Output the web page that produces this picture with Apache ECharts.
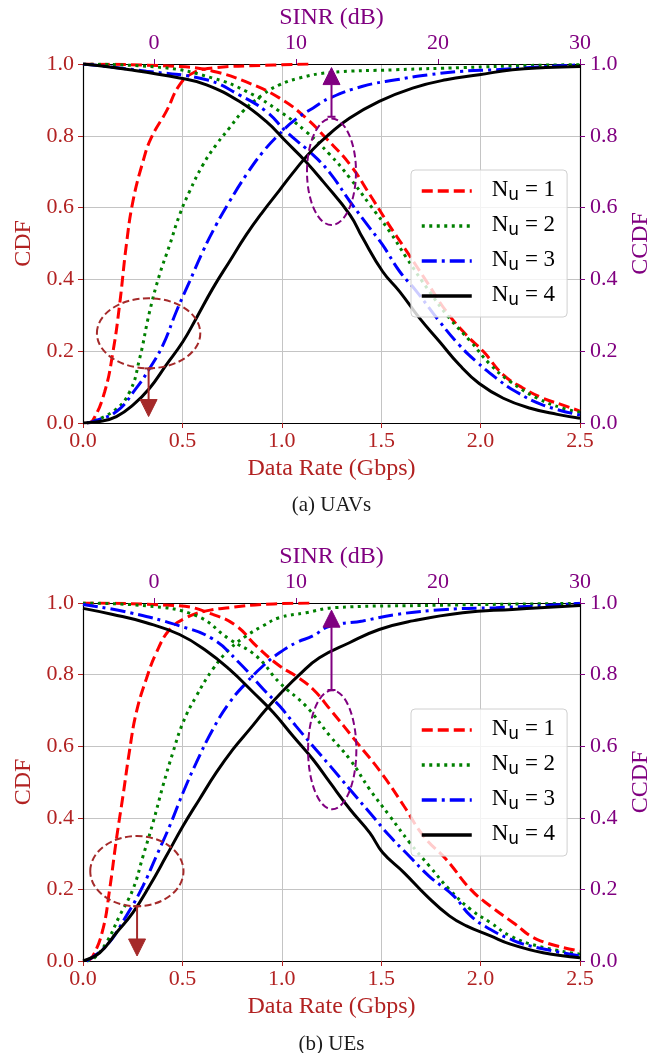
<!DOCTYPE html>
<html><head><meta charset="utf-8">
<script src="https://cdn.jsdelivr.net/npm/echarts@6/dist/echarts.min.js"></script>
<style>html,body{margin:0;padding:0;background:#fff}#c{width:663px;height:1053px}</style>
</head><body><div id="c"></div>
<script>
// ---------- data ----------
const rateTicks = [0, 0.5, 1.0, 1.5, 2.0, 2.5];
const sinrTicks = [0, 10, 20, 30];
const probTicks = [0, 0.2, 0.4, 0.6, 0.8, 1.0];
const seriesNames = ['N1', 'N2', 'N3', 'N4'];
const legendNumbers = ['1', '2', '3', '4'];
const captions = ['(a) UAVs', '(b) UEs'];

// (a) UAVs : CDF vs data rate [Gbps, CDF]
const uavRateN1 = [[0.02,0],[0.05,0.008],[0.109,0.087],[0.151,0.199],[0.184,0.329],[0.218,0.496],[0.251,0.617],[0.302,0.729],[0.343,0.794],[0.419,0.868],[0.486,0.942],[0.553,0.975],[0.653,0.989],[0.905,0.996],[1.156,1.0]];
const uavRateN2 = [[0.02,0],[0.151,0.032],[0.235,0.087],[0.285,0.18],[0.335,0.31],[0.385,0.413],[0.436,0.496],[0.486,0.58],[0.536,0.645],[0.603,0.719],[0.67,0.775],[0.737,0.822],[0.804,0.868],[0.905,0.915],[0.988,0.942],[1.089,0.961],[1.24,0.976],[1.575,0.984],[1.91,0.99],[2.245,0.996],[2.5,0.998]];
const uavRateN3 = [[0.02,0],[0.05,0.004],[0.168,0.032],[0.268,0.097],[0.335,0.152],[0.402,0.217],[0.469,0.31],[0.536,0.394],[0.603,0.478],[0.67,0.552],[0.737,0.617],[0.821,0.691],[0.905,0.755],[0.988,0.805],[1.072,0.847],[1.156,0.877],[1.24,0.905],[1.407,0.938],[1.575,0.956],[1.742,0.97],[1.91,0.98],[2.077,0.984],[2.245,0.99],[2.5,0.998]];
const uavRateN4 = [[0,0],[0.084,0.004],[0.168,0.018],[0.251,0.05],[0.335,0.097],[0.419,0.162],[0.503,0.227],[0.57,0.292],[0.653,0.375],[0.737,0.45],[0.821,0.524],[0.905,0.589],[0.988,0.648],[1.072,0.708],[1.156,0.762],[1.24,0.805],[1.34,0.849],[1.49,0.896],[1.658,0.933],[1.826,0.956],[1.993,0.97],[2.16,0.984],[2.328,0.99],[2.5,0.993]];
// (a) UAVs : CCDF vs SINR [dB, CCDF]
const uavSinrN1 = [[-5,1.0],[1.8,0.993],[4.15,0.98],[6.5,0.95],[8.85,0.905],[10.7,0.85],[12.1,0.794],[13.8,0.72],[15.2,0.636],[16.4,0.561],[17.8,0.478],[19.2,0.394],[20.6,0.31],[22.0,0.245],[23.2,0.199],[24.6,0.134],[26.0,0.097],[27.4,0.069],[28.8,0.05],[30,0.033]];
const uavSinrN2 = [[-5,1.0],[0.63,0.99],[4.2,0.96],[6.5,0.924],[8.85,0.868],[10.7,0.812],[12.4,0.747],[13.8,0.682],[15.2,0.608],[16.6,0.533],[17.8,0.459],[19.4,0.366],[20.8,0.292],[22.3,0.227],[23.7,0.162],[25.1,0.115],[27.0,0.069],[28.8,0.041],[30,0.03]];
const uavSinrN3 = [[-5,1.0],[-0.54,0.98],[3.7,0.956],[6.0,0.914],[7.9,0.868],[9.3,0.812],[11.2,0.747],[12.4,0.696],[13.8,0.617],[15.2,0.543],[16.1,0.496],[17.3,0.422],[18.5,0.366],[20.1,0.283],[21.5,0.217],[22.7,0.171],[24.1,0.125],[25.5,0.087],[27.4,0.05],[30,0.022]];
const uavSinrN4 = [[-5,1.0],[-1.7,0.984],[1.8,0.961],[3.7,0.942],[6.0,0.896],[7.9,0.84],[9.3,0.784],[10.7,0.728],[11.9,0.673],[13.8,0.58],[14.7,0.515],[16.1,0.422],[17.3,0.366],[18.7,0.292],[20.1,0.227],[21.5,0.162],[22.9,0.11],[24.6,0.069],[26.5,0.041],[28.4,0.024],[30,0.013]];

// (b) UEs : CDF vs data rate
const ueRateN1 = [[0.02,0],[0.05,0.014],[0.1,0.088],[0.134,0.2],[0.168,0.34],[0.201,0.461],[0.235,0.591],[0.268,0.694],[0.318,0.787],[0.369,0.861],[0.436,0.926],[0.519,0.959],[0.62,0.978],[0.737,0.987],[0.905,0.996],[1.156,1.0]];
const ueRateN2 = [[0.02,0],[0.05,0.005],[0.117,0.051],[0.184,0.126],[0.251,0.2],[0.302,0.293],[0.352,0.386],[0.402,0.489],[0.452,0.582],[0.503,0.666],[0.57,0.74],[0.653,0.815],[0.737,0.871],[0.821,0.908],[0.905,0.936],[0.988,0.959],[1.122,0.973],[1.265,0.987],[1.7,0.993],[2.5,0.999]];
const ueRateN3 = [[0.017,0],[0.117,0.042],[0.218,0.126],[0.302,0.21],[0.369,0.293],[0.436,0.377],[0.503,0.47],[0.57,0.554],[0.653,0.647],[0.737,0.722],[0.821,0.777],[0.905,0.824],[0.988,0.861],[1.072,0.889],[1.156,0.908],[1.24,0.935],[1.407,0.95],[1.575,0.968],[1.826,0.982],[2.077,0.987],[2.328,0.993],[2.5,0.999]];
const ueRateN4 = [[0,0],[0.084,0.023],[0.168,0.079],[0.251,0.135],[0.335,0.21],[0.419,0.293],[0.503,0.377],[0.586,0.452],[0.67,0.526],[0.754,0.591],[0.838,0.647],[0.921,0.703],[1.005,0.754],[1.089,0.8],[1.189,0.847],[1.34,0.889],[1.49,0.926],[1.658,0.95],[1.91,0.973],[2.16,0.982],[2.5,0.993]];
// (b) UEs : CCDF vs SINR
const ueSinrN1 = [[-5,1.0],[1.8,0.992],[4.15,0.968],[5.8,0.936],[7.2,0.88],[8.85,0.824],[10.0,0.796],[11.2,0.759],[12.4,0.703],[14.3,0.61],[16.0,0.526],[17.6,0.433],[19.0,0.348],[20.6,0.283],[22.3,0.2],[23.7,0.153],[25.3,0.107],[27.0,0.06],[30,0.028]];
const ueSinrN2 = [[-5,1.0],[-0.54,0.992],[3.0,0.964],[5.3,0.899],[7.2,0.852],[8.85,0.777],[10.7,0.712],[12.4,0.628],[13.8,0.563],[15.2,0.479],[16.6,0.405],[18.0,0.331],[19.4,0.265],[20.8,0.2],[22.3,0.144],[23.7,0.107],[25.1,0.07],[27.0,0.042],[30,0.019]];
const ueSinrN3 = [[-5,0.996],[-1.7,0.973],[1.8,0.936],[4.15,0.899],[6.0,0.833],[7.7,0.759],[8.85,0.712],[10.0,0.656],[11.4,0.591],[12.4,0.545],[13.8,0.479],[15.2,0.414],[16.6,0.349],[18.0,0.292],[19.4,0.236],[21.1,0.182],[22.3,0.126],[23.7,0.088],[25.1,0.061],[26.5,0.042],[30,0.014]];
const ueSinrN4 = [[-5,0.985],[-2.9,0.968],[-0.54,0.945],[1.8,0.912],[3.7,0.866],[5.3,0.815],[7.0,0.75],[8.4,0.694],[9.8,0.628],[11.2,0.563],[12.4,0.498],[13.8,0.424],[15.2,0.358],[16.1,0.303],[17.6,0.247],[19.2,0.182],[20.8,0.126],[22.0,0.098],[23.7,0.07],[25.1,0.047],[27.4,0.023],[30,0.009]];

// annotation marks in data units: [x, y, width, height]
const cdfEllipses = [[0.33, 0.25, 0.52, 0.195], [0.271, 0.251, 0.469, 0.196]];
const ccdfEllipses = [[12.5, 0.70, 3.45, 0.297], [12.55, 0.59, 3.4, 0.332]];
// arrows: [x, yStart, yTip]
const cdfArrows = [[0.33, 0.152, 0.018], [0.272, 0.153, 0.014]];
const ccdfArrows = [[12.5, 0.853, 0.99], [12.5, 0.757, 0.98]];

// ---------- chart ----------
const rateData = [[uavRateN1, uavRateN2, uavRateN3, uavRateN4], [ueRateN1, ueRateN2, ueRateN3, ueRateN4]];
const sinrData = [[uavSinrN1, uavSinrN2, uavSinrN3, uavSinrN4], [ueSinrN1, ueSinrN2, ueSinrN3, ueSinrN4]];

const SERIF = 'Liberation Serif';
const BROWN = '#B22222';
const PURPLE = '#800080';
const ANNO_BROWN = '#A52A2A';
const lineColors = ['#FF0000', '#008000', '#0000FF', '#000000'];
const lineTypes = [[11, 5], [3, 4.5], [15, 5, 3, 5], 'solid'];

const grids = [{ top: 64, height: 359 }, { top: 603, height: 358 }];

const chart = echarts.init(document.getElementById('c'), null, { renderer: 'canvas' });

const xAxes = [], yAxes = [], series = [], legends = [];
grids.forEach((g, gi) => {
  xAxes.push({
    type: 'value', gridIndex: gi, position: 'bottom', min: 0, max: 2.5, interval: 0.5,
    axisLine: { show: true, onZero: false, lineStyle: { color: '#000', width: 1.2 } },
    axisTick: { show: true, length: 5, lineStyle: { color: BROWN, width: 1 } },
    axisLabel: { color: BROWN, fontFamily: SERIF, fontSize: 22, margin: 7, formatter: v => v.toFixed(1) },
    splitLine: { show: true, lineStyle: { color: '#c4c4c4', width: 1 } },
    name: 'Data Rate (Gbps)', nameLocation: 'middle', nameGap: 34,
    nameTextStyle: { color: BROWN, fontFamily: SERIF, fontSize: 24 }
  });
  xAxes.push({
    type: 'value', gridIndex: gi, position: 'top', min: -5, max: 30,
    axisLine: { show: true, onZero: false, lineStyle: { color: '#000', width: 1.2 } },
    axisTick: { show: true, length: 5, customValues: sinrTicks, lineStyle: { color: PURPLE, width: 1 } },
    axisLabel: { color: PURPLE, fontFamily: SERIF, fontSize: 22, margin: 10, customValues: sinrTicks },
    splitLine: { show: false },
    name: 'SINR (dB)', nameLocation: 'middle', nameGap: 34,
    nameTextStyle: { color: PURPLE, fontFamily: SERIF, fontSize: 24 }
  });
  yAxes.push({
    type: 'value', gridIndex: gi, position: 'left', min: 0, max: 1, interval: 0.2,
    axisLine: { show: true, onZero: false, lineStyle: { color: '#000', width: 1.2 } },
    axisTick: { show: true, length: 5, lineStyle: { color: BROWN, width: 1 } },
    axisLabel: { color: BROWN, fontFamily: SERIF, fontSize: 22, margin: 9, formatter: v => v.toFixed(1) },
    splitLine: { show: true, lineStyle: { color: '#c4c4c4', width: 1 } },
    name: 'CDF', nameLocation: 'middle', nameGap: 46, nameRotate: 90,
    nameTextStyle: { color: BROWN, fontFamily: SERIF, fontSize: 24 }
  });
  yAxes.push({
    type: 'value', gridIndex: gi, position: 'right', min: 0, max: 1, interval: 0.2,
    axisLine: { show: true, onZero: false, lineStyle: { color: '#000', width: 1.2 } },
    axisTick: { show: true, length: 5, lineStyle: { color: PURPLE, width: 1 } },
    axisLabel: { color: PURPLE, fontFamily: SERIF, fontSize: 22, margin: 10, formatter: v => v.toFixed(1) },
    splitLine: { show: false },
    name: 'CCDF', nameLocation: 'middle', nameGap: 41, nameRotate: 90,
    nameTextStyle: { color: PURPLE, fontFamily: SERIF, fontSize: 24 }
  });
  for (let i = 0; i < 4; i++) {
    const common = {
      type: 'line', name: seriesNames[i], showSymbol: false, symbol: 'circle', symbolSize: 0,
      smooth: 0.45, animation: false, silent: true,
      lineStyle: { color: lineColors[i], width: 3, type: lineTypes[i], cap: 'butt' },
      itemStyle: { color: lineColors[i] }
    };
    series.push(Object.assign({}, common, { xAxisIndex: gi * 2, yAxisIndex: gi * 2, data: rateData[gi][i] }));
    series.push(Object.assign({}, common, { xAxisIndex: gi * 2 + 1, yAxisIndex: gi * 2 + 1, data: sinrData[gi][i] }));
  }
  legends.push({
    data: seriesNames, orient: 'vertical', left: 411, top: g.top + 106,
    itemWidth: 50, itemHeight: 20, itemGap: 8,
    backgroundColor: 'rgba(255,255,255,0.8)', borderColor: '#d0d0d0', borderWidth: 1, borderRadius: 4,
    padding: [7, 12, 8, 9],
    selectedMode: false,
    itemStyle: { opacity: 0, color: 'rgba(0,0,0,0)', borderWidth: 0 },
    lineStyle: { width: 3.5 },
    formatter: name => '{n|N}{u|u}{e| = ' + legendNumbers[seriesNames.indexOf(name)] + '}',
    textStyle: {
      fontFamily: SERIF, fontSize: 23, color: '#000',
      rich: {
        n: { fontFamily: SERIF, fontSize: 23, color: '#000', padding: [0, 0, 0, 15], lineHeight: 26, verticalAlign: 'top' },
        u: { fontFamily: 'DejaVu Sans', fontSize: 17, color: '#000', verticalAlign: 'bottom', lineHeight: 20, padding: [10, 0, 0, 0] },
        e: { fontFamily: SERIF, fontSize: 23, color: '#000', lineHeight: 26, verticalAlign: 'top' }
      }
    }
  });
});

chart.setOption({
  backgroundColor: '#fff',
  animation: false,
  grid: grids.map(g => ({ left: 83, width: 497, top: g.top, height: g.height, containLabel: false })),
  xAxis: xAxes, yAxis: yAxes, series: series, legend: legends
});

// ---------- annotations (ellipses + arrows) positioned via axis scales ----------
function px(axisIdx, v) { return chart.convertToPixel({ xAxisIndex: axisIdx }, v); }
function py(axisIdx, v) { return chart.convertToPixel({ yAxisIndex: axisIdx }, v); }
const graphics = [];
function addEllipse(e, xa, ya, color) {
  const cx = px(xa, e[0]), cy = py(ya, e[1]);
  const rx = Math.abs(px(xa, e[0] + e[2] / 2) - cx), ry = Math.abs(py(ya, e[1] + e[3] / 2) - cy);
  graphics.push({ type: 'ellipse', shape: { cx, cy, rx, ry }, z: 100,
    style: { fill: null, stroke: color, lineWidth: 2, lineDash: [7, 3.5] } });
}
function addArrow(a, xa, ya, color) {
  const x = px(xa, a[0]), y0 = py(ya, a[1]), y1 = py(ya, a[2]);
  const dir = y1 > y0 ? 1 : -1, headLen = 17, headHalf = 8.5;
  const yb = y1 - dir * headLen;
  graphics.push({ type: 'line', shape: { x1: x, y1: y0, x2: x, y2: yb }, z: 100,
    style: { stroke: color, lineWidth: 2 } });
  graphics.push({ type: 'line', shape: { x1: x - 4, y1: y0, x2: x + 4, y2: y0 }, z: 100,
    style: { stroke: color, lineWidth: 2 } });
  graphics.push({ type: 'polygon', shape: { points: [[x - headHalf, yb], [x + headHalf, yb], [x, y1]] }, z: 100,
    style: { fill: color, stroke: color, lineWidth: 1 } });
}
for (let gi = 0; gi < 2; gi++) {
  addEllipse(cdfEllipses[gi], gi * 2, gi * 2, ANNO_BROWN);
  addArrow(cdfArrows[gi], gi * 2, gi * 2, ANNO_BROWN);
  addEllipse(ccdfEllipses[gi], gi * 2 + 1, gi * 2 + 1, PURPLE);
  addArrow(ccdfArrows[gi], gi * 2 + 1, gi * 2 + 1, PURPLE);
}
const captionY = [507, 1046];
captions.forEach((t, i) => graphics.push({
  type: 'text', left: 'center', top: captionY[i] - 12, z: 100,
  style: { text: t, font: '21px "' + SERIF + '"', fill: '#1a1a1a' }
}));
chart.setOption({ graphic: graphics });
</script></body></html>
